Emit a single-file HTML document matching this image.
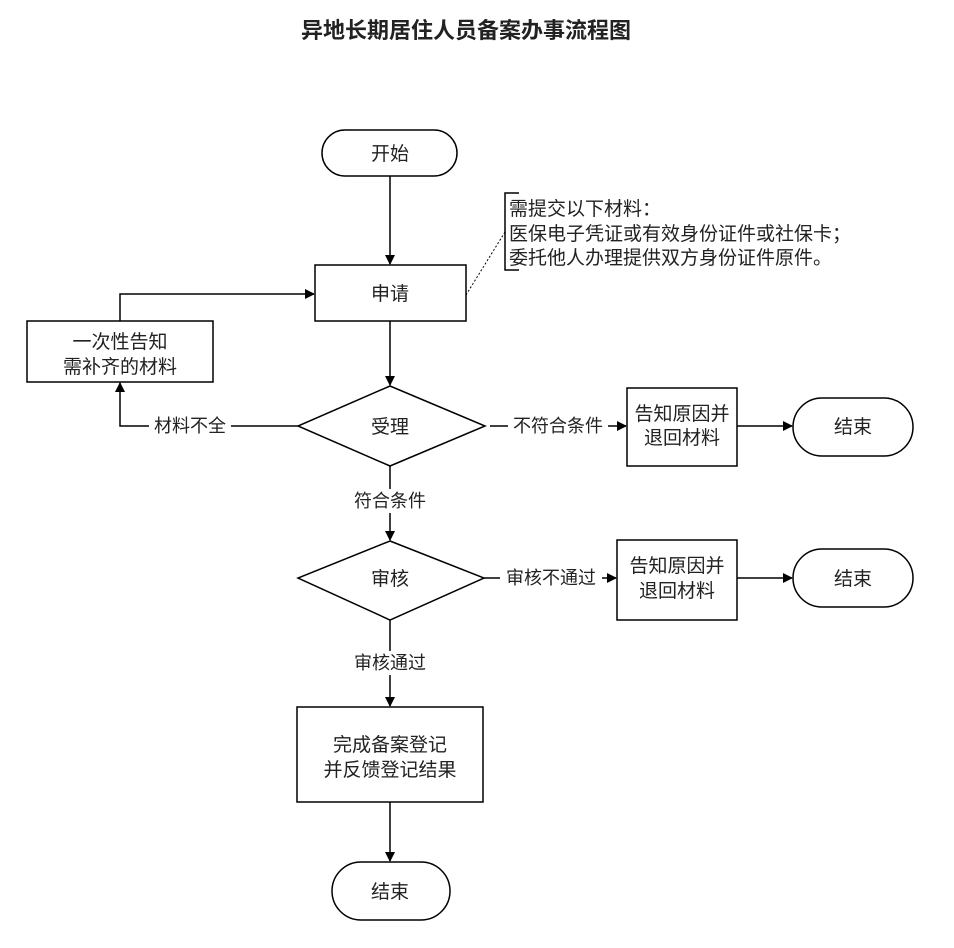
<!DOCTYPE html>
<html><head><meta charset="utf-8"><style>
body{margin:0;background:#fff;width:954px;height:943px;overflow:hidden}
text{font-family:"Liberation Sans","Noto Sans CJK SC",sans-serif;fill:#222}
</style></head><body>
<svg width="954" height="943" viewBox="0 0 954 943" xmlns="http://www.w3.org/2000/svg">
<defs><marker id="a" markerWidth="10" markerHeight="10" refX="9" refY="5" orient="auto" markerUnits="userSpaceOnUse"><path d="M0,0 L10,5 L0,10 Z" fill="#000"/></marker></defs>
<text x="466" y="38" font-size="22" font-weight="bold" text-anchor="middle">异地长期居住人员备案办事流程图</text>
<g stroke="#000" stroke-width="1.5" fill="none">
<rect x="322" y="130" width="135" height="46" rx="23" fill="#fff"/>
<line x1="390" y1="176" x2="390" y2="264" marker-end="url(#a)"/>
<rect x="315" y="265" width="151" height="56"/>
<path d="M519,193 H505 V270 H519"/>
<line x1="466" y1="295" x2="505" y2="232" stroke-dasharray="2,2" stroke-width="1"/>
<rect x="27" y="321" width="186" height="61"/>
<path d="M120,321 V294 H314" marker-end="url(#a)"/>
<line x1="390" y1="321" x2="390" y2="385" marker-end="url(#a)"/>
<polygon points="390,386 485,426 390,466 298,426"/>
<path d="M298,426 H120 V383" marker-end="url(#a)"/>
<line x1="490" y1="426" x2="626" y2="426" marker-end="url(#a)"/>
<rect x="627" y="388" width="110" height="78"/>
<line x1="737" y1="426" x2="792" y2="426" marker-end="url(#a)"/>
<rect x="793" y="398" width="120" height="58" rx="29"/>
<line x1="390" y1="466" x2="390" y2="540" marker-end="url(#a)"/>
<polygon points="390,541 484,578 390,620 298,578"/>
<line x1="484" y1="578" x2="616" y2="578" marker-end="url(#a)"/>
<rect x="617" y="540" width="120" height="80"/>
<line x1="737" y1="578" x2="792" y2="578" marker-end="url(#a)"/>
<rect x="793" y="549" width="120" height="58" rx="29"/>
<line x1="390" y1="620" x2="390" y2="706" marker-end="url(#a)"/>
<rect x="297" y="707" width="186" height="95"/>
<line x1="390" y1="802" x2="390" y2="861" marker-end="url(#a)"/>
<rect x="332" y="862" width="118" height="58" rx="29"/>
</g>
<g font-size="19" text-anchor="middle">
<text x="390" y="160">开始</text>
<text x="390" y="300">申请</text>
<text x="120" y="348">一次性告知</text>
<text x="120" y="373">需补齐的材料</text>
<text x="390" y="433">受理</text>
<text x="682" y="420">告知原因并</text>
<text x="682" y="444">退回材料</text>
<text x="853" y="433">结束</text>
<text x="390" y="585">审核</text>
<text x="677" y="572">告知原因并</text>
<text x="677" y="597">退回材料</text>
<text x="853" y="585">结束</text>
<text x="390" y="751">完成备案登记</text>
<text x="390" y="776">并反馈登记结果</text>
<text x="390" y="898">结束</text>
</g>
<g font-size="19">
<text x="509" y="215">需提交以下材料：</text>
<text x="509" y="240">医保电子凭证或有效身份证件或社保卡；</text>
<text x="509" y="264">委托他人办理提供双方身份证件原件。</text>
</g>
<g font-size="18" text-anchor="middle">
<rect x="149" y="414" width="82" height="24" fill="#fff"/>
<text x="190" y="432">材料不全</text>
<rect x="508" y="414" width="100" height="24" fill="#fff"/>
<text x="558" y="432">不符合条件</text>
<rect x="348" y="489" width="84" height="24" fill="#fff"/>
<text x="390" y="507">符合条件</text>
<rect x="500" y="566" width="102" height="24" fill="#fff"/>
<text x="551" y="584">审核不通过</text>
<rect x="348" y="651" width="84" height="24" fill="#fff"/>
<text x="390" y="669">审核通过</text>
</g>
</svg>
</body></html>
